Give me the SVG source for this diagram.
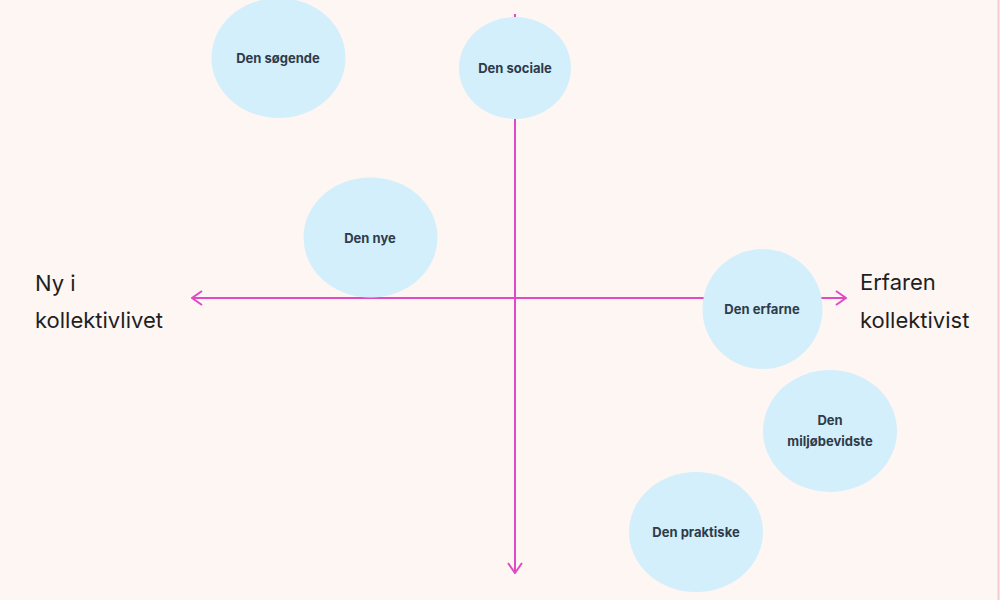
<svg xmlns="http://www.w3.org/2000/svg" width="1000" height="600" viewBox="0 0 1000 600">
<defs>
<style>
.node ellipse{fill:#d3effb}
.node text{font-family:Inter,"Noto Sans","Liberation Sans",sans-serif;font-size:13px;font-weight:700;fill:#2e3b4a;text-anchor:middle}
.axis{stroke:#e04ac6;stroke-width:2;fill:none}
.lbl{font-family:Inter,"Noto Sans","Liberation Sans",sans-serif;font-size:22px;fill:#1f1f1f}
</style>
<marker id="arr" viewBox="0 0 12 16" refX="11" refY="8" markerWidth="12" markerHeight="16" markerUnits="userSpaceOnUse" orient="auto">
<path d="M1,1 L11,8 L1,15" fill="none" stroke="#e04ac6" stroke-width="2"/>
</marker>
</defs>
<rect width="1000" height="600" fill="#fdf6f3"/>
<line x1="998.5" y1="0" x2="998.5" y2="600" stroke="#f3c9d3" stroke-width="2"/>
<g id="connectors">
<line class="axis" x1="515" y1="14" x2="515" y2="573" marker-end="url(#arr)"/>
<line class="axis" x1="515" y1="298" x2="192" y2="298" marker-end="url(#arr)"/>
<line class="axis" x1="515" y1="298" x2="846" y2="298" marker-end="url(#arr)"/>
</g>
<g id="node-sogende" class="node"><ellipse cx="278.5" cy="58" rx="67" ry="60"/><text x="278" y="63">Den søgende</text></g>
<g id="node-sociale" class="node"><ellipse cx="515" cy="68" rx="56" ry="51"/><text x="515" y="73">Den sociale</text></g>
<g id="node-nye" class="node"><ellipse cx="370.5" cy="237.5" rx="67" ry="60"/><text x="370" y="243">Den nye</text></g>
<g id="node-erfarne" class="node"><ellipse cx="762.5" cy="309" rx="60" ry="60"/><text x="762" y="314">Den erfarne</text></g>
<g id="node-miljobevidste" class="node"><ellipse cx="830" cy="431" rx="67" ry="61"/><text x="830" y="425">Den</text><text x="830" y="446">miljøbevidste</text></g>
<g id="node-praktiske" class="node"><ellipse cx="696" cy="532" rx="67" ry="60"/><text x="696" y="537">Den praktiske</text></g>
<g id="label-left"><text class="lbl" x="35" y="291">Ny i</text><text class="lbl" x="35" y="328">kollektivlivet</text></g>
<g id="label-right"><text class="lbl" x="860" y="290">Erfaren</text><text class="lbl" x="860" y="328">kollektivist</text></g>
</svg>
